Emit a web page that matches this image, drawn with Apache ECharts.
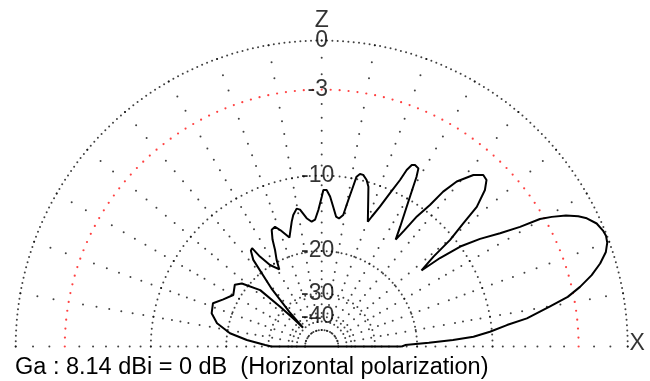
<!DOCTYPE html>
<html><head><meta charset="utf-8">
<script src="https://cdn.jsdelivr.net/npm/echarts@6/dist/echarts.min.js"></script>
<style>html,body{margin:0;padding:0;background:#fff}#c{width:650px;height:381px}</style>
</head><body><div id="c"></div>
<script>
// Elevation angle (deg, from +X horizon counter-clockwise) and relative gain (dB)
const ANGLES = [0,1.0,2.0,2.8,3.7,5.0,6.6,7.8,9.9,11.4,13.0,14.8,16.6,18.4,20.0,21.3,22.4,24.1,25.8,26.9,28.2,29.4,30.3,31.1,32.4,34.2,35.8,36.8,37.3,
  38.8,39.7,41.0,42.0,43.8,45.3,46.7,48.5,50.7,51.9,52.6,53.8,54.6,55.3,
  56.8,58.7,60.2,60.8,61.5,62.8,63.6,64.3,64.8,66.0,67.4,68.9,69.7,
  72.4,73.7,74.9,76.4,77.5,78.4,78.9,79.7,80.7,82.3,
  83.7,85.3,86.8,88.2,89.4,90.0,91.4,93.0,94.6,
  96.7,99.0,100.3,102.2,103.5,106.5,
  109.5,111.3,113.2,114.7,115.8,117.5,118.8,
  122.4,124.5,125.3,126.5,128.3,131.0,133.0,134.8,
  135.5,136.3,137.5,141.7,144.6,149.8,154.4,158.3,163.2,167.5,171.8,175.0,178.5,180];
const GAIN_DB = [-23.0,-22.3,-18.0,-14.5,-12.0,-10.2,-8.5,-6.7,-4.8,-3.4,-2.46,-1.57,-0.89,-0.37,-0.12,-0.05,-0.1,-0.27,-0.66,-1.06,-1.7,-2.53,-3.28,-4.78,-6.36,-8.05,-10.0,-12.5,-15.3,
  -13.0,-10.4,-8.4,-6.57,-5.19,-4.58,-4.49,-4.98,-6.2,-7.57,-9.28,-11.0,-13.15,-14.7,
  -13.0,-10.75,-8.7,-7.8,-7.07,-6.95,-7.08,-7.65,-8.73,-10.3,-12.07,-13.5,-14.3,
  -11.8,-10.45,-9.84,-9.44,-9.42,-9.75,-10.8,-12.36,-14.27,-14.8,
  -14.6,-13.4,-12.2,-11.5,-11.5,-12.3,-13.85,-15.1,-15.34,
  -14.8,-13.6,-13.4,-14.1,-14.9,-17.0,
  -15.6,-14.9,-15.1,-16.4,-18.0,-19.6,-21.4,
  -19.8,-17.7,-16.0,-16.2,-17.5,-24.0,-32.0,-42.0,
  -35.0,-28.7,-22.3,-18.9,-18.1,-18.8,-17.7,-16.5,-16.8,-18.0,-20.5,-24.1,-29.0,-31.0];
// Grid rings (dB), their labels and dot spacing (deg)
const RING_DB = [0,-3,-10,-20,-30,-40,-50];
const RING_LABELS = ['0','-3','-10','-20','-30','-40',''];
const RING_STEP = [1,2,2,3,6,10,18];
const SPOKE_ANGLES = [0,10,20,30,40,50,60,70,80,90,100,110,120,130,140,150,160,170,180];
const SPOKE_DB = [0,-1,-2,-3,-4,-5,-6,-7,-8,-9,-10,-11,-12,-13,-14,-15.5,-17,-18.5,-20,-22,-24,-26,-28,-31,-34,-38,-43,-50];
const AXIS_NAMES = ['Z','X'];
const FOOTER = 'Ga : 8.14 dBi = 0 dB  (Horizontal polarization)';

// ARRL log scale: each 2 dB -> factor 0.89
const arrl = db => Math.pow(0.89, -db / 2);

const blackDots = [], redDots = [];
RING_DB.forEach((db, i) => {
  for (let a = 0; a <= 180.001; a += RING_STEP[i]) {
    (db === -3 ? redDots : blackDots).push([arrl(db), a]);
  }
});
SPOKE_ANGLES.forEach(a => SPOKE_DB.forEach(db => {
  if (db === -3) return;
  blackDots.push([arrl(db), a]);
}));

const pattern = ANGLES.map((a, i) => [arrl(GAIN_DB[i]), a]);
pattern.push(pattern[0]);

const FONT = 'Arial, Liberation Sans, sans-serif';
const labels = RING_DB.map((db, i) => ({
  value: [arrl(db), 90],
  label: { formatter: RING_LABELS[i], offset: [db < 0 ? -4 : 0, 0] }
})).filter((d, i) => RING_LABELS[i] !== '');
const names = [
  { value: [1.064, 90], label: { formatter: AXIS_NAMES[0] } },
  { value: [1.031, 0.5], label: { formatter: AXIS_NAMES[1] } }
];

const chart = echarts.init(document.getElementById('c'), null, { renderer: 'canvas' });
chart.setOption({
  animation: false,
  backgroundColor: '#fff',
  title: { text: FOOTER, left: 15, top: 356, padding: 0, textStyle: { fontFamily: FONT, fontSize: 23.5, fontWeight: 'normal', color: '#000' } },
  polar: { center: [321.7, 346.5], radius: 306 * 1.1 },
  angleAxis: { type: 'value', min: 0, max: 360, startAngle: 0, clockwise: false,
    axisLine: { show: false }, axisTick: { show: false }, axisLabel: { show: false }, splitLine: { show: false } },
  radiusAxis: { type: 'value', min: 0, max: 1.1,
    axisLine: { show: false }, axisTick: { show: false }, axisLabel: { show: false }, splitLine: { show: false } },
  series: [
    { type: 'scatter', coordinateSystem: 'polar', data: blackDots, symbol: 'circle', symbolSize: 2,
      itemStyle: { color: '#111' }, silent: true, z: 1 },
    { type: 'scatter', coordinateSystem: 'polar', data: redDots, symbol: 'circle', symbolSize: 2.2,
      itemStyle: { color: '#ff1010' }, silent: true, z: 1 },
    { type: 'line', coordinateSystem: 'polar', data: pattern, showSymbol: false, smooth: false,
      lineStyle: { color: '#000', width: 2 }, silent: true, z: 3 },
    { type: 'scatter', coordinateSystem: 'polar', data: labels, symbolSize: 0, silent: true, z: 4,
      label: { show: true, position: 'inside', fontFamily: FONT, fontSize: 23, color: '#000', align: 'center', verticalAlign: 'middle' } },
    { type: 'scatter', coordinateSystem: 'polar', data: names, symbolSize: 0, silent: true, z: 4,
      label: { show: true, position: 'inside', fontFamily: FONT, fontSize: 23, color: '#000', align: 'center', verticalAlign: 'middle' } }
  ]
});
</script></body></html>
